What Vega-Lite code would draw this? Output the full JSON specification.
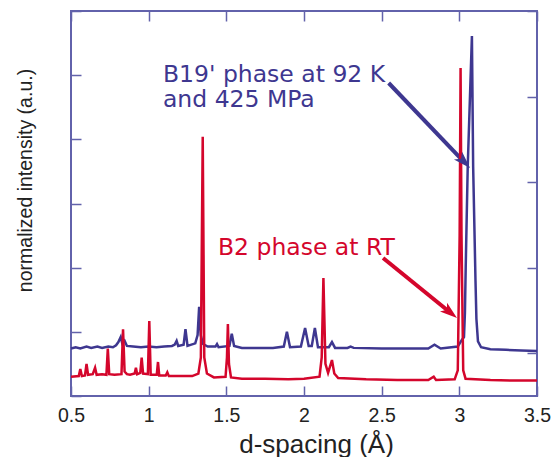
{
  "$schema": "https://vega.github.io/schema/vega-lite/v6.json",
  "width": 466,
  "height": 385,
  "autosize": {"type": "none"},
  "padding": {"left": 71, "top": 11, "right": 21, "bottom": 61},
  "background": "white",
  "config": {
    "view": {"stroke": "#6262ab", "strokeWidth": 2},
    "font": "Liberation Sans",
    "axis": {
      "domain": false,
      "grid": false,
      "tickColor": "#6262ab",
      "tickWidth": 1.5,
      "tickSize": -10,
      "labelFont": "Liberation Sans",
      "labelFontSize": 19.5,
      "labelColor": "#222222",
      "labelFlush": false,
      "titleFont": "Liberation Sans",
      "titleColor": "#222222",
      "titleFontWeight": "normal"
    }
  },
  "datasets": {
    "spectra": [
      {"series": "B19'", "d": 0.50, "I": 0.74},
      {"series": "B19'", "d": 0.53, "I": 0.76},
      {"series": "B19'", "d": 0.56, "I": 0.74},
      {"series": "B19'", "d": 0.60, "I": 0.77},
      {"series": "B19'", "d": 0.63, "I": 0.75},
      {"series": "B19'", "d": 0.67, "I": 0.77},
      {"series": "B19'", "d": 0.70, "I": 0.75},
      {"series": "B19'", "d": 0.74, "I": 0.77},
      {"series": "B19'", "d": 0.77, "I": 0.76},
      {"series": "B19'", "d": 0.79, "I": 0.79},
      {"series": "B19'", "d": 0.805, "I": 0.84},
      {"series": "B19'", "d": 0.82, "I": 0.92},
      {"series": "B19'", "d": 0.83, "I": 0.82},
      {"series": "B19'", "d": 0.845, "I": 0.86},
      {"series": "B19'", "d": 0.86, "I": 0.78},
      {"series": "B19'", "d": 0.90, "I": 0.77},
      {"series": "B19'", "d": 0.95, "I": 0.76},
      {"series": "B19'", "d": 1.00, "I": 0.77},
      {"series": "B19'", "d": 1.05, "I": 0.76},
      {"series": "B19'", "d": 1.10, "I": 0.77},
      {"series": "B19'", "d": 1.15, "I": 0.78},
      {"series": "B19'", "d": 1.168, "I": 0.80},
      {"series": "B19'", "d": 1.18, "I": 0.86},
      {"series": "B19'", "d": 1.19, "I": 0.78},
      {"series": "B19'", "d": 1.225, "I": 0.80},
      {"series": "B19'", "d": 1.237, "I": 1.04},
      {"series": "B19'", "d": 1.25, "I": 0.78},
      {"series": "B19'", "d": 1.30, "I": 0.82},
      {"series": "B19'", "d": 1.315, "I": 0.95},
      {"series": "B19'", "d": 1.325, "I": 1.39},
      {"series": "B19'", "d": 1.335, "I": 0.95},
      {"series": "B19'", "d": 1.35, "I": 0.81},
      {"series": "B19'", "d": 1.38, "I": 0.77},
      {"series": "B19'", "d": 1.43, "I": 0.77},
      {"series": "B19'", "d": 1.44, "I": 0.81},
      {"series": "B19'", "d": 1.45, "I": 0.76},
      {"series": "B19'", "d": 1.52, "I": 0.78},
      {"series": "B19'", "d": 1.535, "I": 0.97},
      {"series": "B19'", "d": 1.55, "I": 0.78},
      {"series": "B19'", "d": 1.60, "I": 0.75},
      {"series": "B19'", "d": 1.80, "I": 0.75},
      {"series": "B19'", "d": 1.87, "I": 0.77},
      {"series": "B19'", "d": 1.89, "I": 1.00},
      {"series": "B19'", "d": 1.91, "I": 0.76},
      {"series": "B19'", "d": 1.98, "I": 0.77},
      {"series": "B19'", "d": 2.007, "I": 1.06},
      {"series": "B19'", "d": 2.03, "I": 0.78},
      {"series": "B19'", "d": 2.05, "I": 0.78},
      {"series": "B19'", "d": 2.07, "I": 1.06},
      {"series": "B19'", "d": 2.09, "I": 0.76},
      {"series": "B19'", "d": 2.16, "I": 0.76},
      {"series": "B19'", "d": 2.18, "I": 0.84},
      {"series": "B19'", "d": 2.20, "I": 0.75},
      {"series": "B19'", "d": 2.28, "I": 0.75},
      {"series": "B19'", "d": 2.30, "I": 0.77},
      {"series": "B19'", "d": 2.32, "I": 0.75},
      {"series": "B19'", "d": 2.50, "I": 0.74},
      {"series": "B19'", "d": 2.80, "I": 0.74},
      {"series": "B19'", "d": 2.84, "I": 0.80},
      {"series": "B19'", "d": 2.88, "I": 0.74},
      {"series": "B19'", "d": 2.99, "I": 0.77},
      {"series": "B19'", "d": 3.015, "I": 0.87},
      {"series": "B19'", "d": 3.03, "I": 0.92},
      {"series": "B19'", "d": 3.036, "I": 1.3},
      {"series": "B19'", "d": 3.041, "I": 2.0},
      {"series": "B19'", "d": 3.054, "I": 3.57},
      {"series": "B19'", "d": 3.081, "I": 5.61},
      {"series": "B19'", "d": 3.089, "I": 3.57},
      {"series": "B19'", "d": 3.104, "I": 1.8},
      {"series": "B19'", "d": 3.11, "I": 1.2},
      {"series": "B19'", "d": 3.12, "I": 0.85},
      {"series": "B19'", "d": 3.14, "I": 0.76},
      {"series": "B19'", "d": 3.20, "I": 0.73},
      {"series": "B19'", "d": 3.30, "I": 0.72},
      {"series": "B19'", "d": 3.40, "I": 0.71},
      {"series": "B19'", "d": 3.50, "I": 0.70},
      {"series": "B2", "d": 0.50, "I": 0.30},
      {"series": "B2", "d": 0.55, "I": 0.31},
      {"series": "B2", "d": 0.56, "I": 0.42},
      {"series": "B2", "d": 0.57, "I": 0.31},
      {"series": "B2", "d": 0.59, "I": 0.32},
      {"series": "B2", "d": 0.60, "I": 0.50},
      {"series": "B2", "d": 0.61, "I": 0.33},
      {"series": "B2", "d": 0.64, "I": 0.34},
      {"series": "B2", "d": 0.655, "I": 0.44},
      {"series": "B2", "d": 0.665, "I": 0.33},
      {"series": "B2", "d": 0.70, "I": 0.34},
      {"series": "B2", "d": 0.728, "I": 0.33},
      {"series": "B2", "d": 0.737, "I": 0.74},
      {"series": "B2", "d": 0.746, "I": 0.34},
      {"series": "B2", "d": 0.78, "I": 0.33},
      {"series": "B2", "d": 0.825, "I": 0.34},
      {"series": "B2", "d": 0.835, "I": 1.04},
      {"series": "B2", "d": 0.845, "I": 0.38},
      {"series": "B2", "d": 0.86, "I": 0.34},
      {"series": "B2", "d": 0.88, "I": 0.33},
      {"series": "B2", "d": 0.91, "I": 0.35},
      {"series": "B2", "d": 0.918, "I": 0.44},
      {"series": "B2", "d": 0.926, "I": 0.34},
      {"series": "B2", "d": 0.946, "I": 0.36},
      {"series": "B2", "d": 0.955, "I": 0.60},
      {"series": "B2", "d": 0.964, "I": 0.35},
      {"series": "B2", "d": 0.995, "I": 0.34},
      {"series": "B2", "d": 1.004, "I": 1.17},
      {"series": "B2", "d": 1.013, "I": 0.33},
      {"series": "B2", "d": 1.052, "I": 0.33},
      {"series": "B2", "d": 1.06, "I": 0.53},
      {"series": "B2", "d": 1.068, "I": 0.32},
      {"series": "B2", "d": 1.11, "I": 0.32},
      {"series": "B2", "d": 1.12, "I": 0.37},
      {"series": "B2", "d": 1.13, "I": 0.31},
      {"series": "B2", "d": 1.20, "I": 0.31},
      {"series": "B2", "d": 1.28, "I": 0.31},
      {"series": "B2", "d": 1.32, "I": 0.35},
      {"series": "B2", "d": 1.336, "I": 0.6},
      {"series": "B2", "d": 1.348, "I": 4.04},
      {"series": "B2", "d": 1.358, "I": 0.6},
      {"series": "B2", "d": 1.375, "I": 0.35},
      {"series": "B2", "d": 1.42, "I": 0.29},
      {"series": "B2", "d": 1.495, "I": 0.30},
      {"series": "B2", "d": 1.504, "I": 0.6},
      {"series": "B2", "d": 1.51, "I": 1.12},
      {"series": "B2", "d": 1.517, "I": 0.5},
      {"series": "B2", "d": 1.53, "I": 0.29},
      {"series": "B2", "d": 1.60, "I": 0.27},
      {"series": "B2", "d": 1.75, "I": 0.27},
      {"series": "B2", "d": 1.90, "I": 0.26},
      {"series": "B2", "d": 2.00, "I": 0.27},
      {"series": "B2", "d": 2.10, "I": 0.30},
      {"series": "B2", "d": 2.114, "I": 0.6},
      {"series": "B2", "d": 2.125, "I": 1.84},
      {"series": "B2", "d": 2.138, "I": 0.5},
      {"series": "B2", "d": 2.155, "I": 0.36},
      {"series": "B2", "d": 2.18, "I": 0.56},
      {"series": "B2", "d": 2.195, "I": 0.35},
      {"series": "B2", "d": 2.22, "I": 0.28},
      {"series": "B2", "d": 2.40, "I": 0.26},
      {"series": "B2", "d": 2.60, "I": 0.25},
      {"series": "B2", "d": 2.80, "I": 0.25},
      {"series": "B2", "d": 2.835, "I": 0.30},
      {"series": "B2", "d": 2.85, "I": 0.25},
      {"series": "B2", "d": 2.97, "I": 0.26},
      {"series": "B2", "d": 2.99, "I": 0.4},
      {"series": "B2", "d": 3.002, "I": 2.5},
      {"series": "B2", "d": 3.008, "I": 5.11},
      {"series": "B2", "d": 3.014, "I": 2.5},
      {"series": "B2", "d": 3.025, "I": 0.4},
      {"series": "B2", "d": 3.04, "I": 0.27},
      {"series": "B2", "d": 3.20, "I": 0.25},
      {"series": "B2", "d": 3.35, "I": 0.24},
      {"series": "B2", "d": 3.50, "I": 0.24}
    ],
    "notes": [
      {"series": "B19'", "d": 1.092, "I": 4.893, "label": "B19' phase at 92 K"},
      {"series": "B19'", "d": 1.092, "I": 4.504, "label": "and 425 MPa"},
      {"series": "B2", "d": 1.446, "I": 2.197, "label": "B2 phase at RT"}
    ],
    "arrows": [
      {"series": "B19'", "d": 2.545, "I": 4.878, "d2": 3.033, "I2": 3.642, "tipD": 3.069, "tipI": 3.553},
      {"series": "B2", "d": 2.509, "I": 2.15, "d2": 2.945, "I2": 1.293, "tipD": 2.985, "tipI": 1.216}
    ]
  },
  "layer": [
    {
      "data": {"name": "spectra"},
      "transform": [{"filter": "datum.series === \"B19'\""}],
      "mark": {"type": "line", "strokeWidth": 2.5, "interpolate": "linear"},
      "encoding": {
        "x": {"field": "d", "type": "quantitative", "scale": {"domain": [0.5, 3.5], "nice": false, "zero": false},
          "axis": {"orient": "bottom", "values": [0.5, 1, 1.5, 2, 2.5, 3, 3.5], "format": "~g", "labelPadding": 20, "title": "d-spacing (Å)", "titleFontSize": 26, "titleBaseline": "alphabetic", "titleAnchor": "middle", "titleX": 245, "titleY": 56}},
        "y": {"field": "I", "type": "quantitative", "scale": {"domain": [0, 6], "nice": false, "zero": false},
          "axis": {"orient": "left", "values": [0, 1, 2, 3, 4, 5, 6], "labels": false, "title": "normalized intensity (a.u.)", "titleFontSize": 19.5, "titleAnchor": "middle", "titleX": -36, "titleY": 169, "titleBaseline": "bottom", "titleAngle": -90}},
        "color": {"field": "series", "type": "nominal", "scale": {"domain": ["B19'", "B2"], "range": ["#3e3790", "#d4062c"]}, "legend": null}
      }
    },
    {
      "data": {"name": "arrows"},
      "mark": {"type": "rule", "strokeWidth": 4},
      "encoding": {
        "x": {"field": "d", "type": "quantitative", "scale": {"domain": [0.5, 3.5], "nice": false, "zero": false},
          "axis": {"orient": "top", "values": [0.5, 1, 1.5, 2, 2.5, 3, 3.5], "labels": false, "title": null}},
        "y": {"field": "I", "type": "quantitative", "scale": {"domain": [0, 6], "nice": false, "zero": false},
          "axis": {"orient": "right", "values": [0.667, 2, 3.333, 4.667, 6], "labels": false, "title": null}},
        "x2": {"field": "d2"},
        "y2": {"field": "I2"},
        "color": {"field": "series", "type": "nominal", "legend": null}
      }
    },
    {
      "data": {"name": "spectra"},
      "transform": [{"filter": "datum.series === 'B2'"}],
      "mark": {"type": "line", "strokeWidth": 2.5, "interpolate": "linear"},
      "encoding": {
        "x": {"field": "d", "type": "quantitative", "axis": null},
        "y": {"field": "I", "type": "quantitative", "axis": null},
        "color": {"field": "series", "type": "nominal", "legend": null}
      }
    },
    {
      "data": {"name": "arrows"},
      "transform": [{"filter": "datum.series === \"B19'\""}],
      "mark": {"type": "point", "shape": "M0,0L-0.65,2L0,1.5L0.65,2Z", "filled": true, "opacity": 1, "size": 300, "angle": 136},
      "encoding": {
        "x": {"field": "tipD", "type": "quantitative", "axis": null},
        "y": {"field": "tipI", "type": "quantitative", "axis": null},
        "color": {"field": "series", "type": "nominal", "legend": null}
      }
    },
    {
      "data": {"name": "arrows"},
      "transform": [{"filter": "datum.series === 'B2'"}],
      "mark": {"type": "point", "shape": "M0,0L-0.65,2L0,1.5L0.65,2Z", "filled": true, "opacity": 1, "size": 300, "angle": 129},
      "encoding": {
        "x": {"field": "tipD", "type": "quantitative", "axis": null},
        "y": {"field": "tipI", "type": "quantitative", "axis": null},
        "color": {"field": "series", "type": "nominal", "legend": null}
      }
    },
    {
      "data": {"name": "notes"},
      "mark": {"type": "text", "align": "left", "baseline": "alphabetic", "fontSize": 23.5, "font": "DejaVu Sans"},
      "encoding": {
        "x": {"field": "d", "type": "quantitative", "axis": null},
        "y": {"field": "I", "type": "quantitative", "axis": null},
        "text": {"field": "label"},
        "color": {"field": "series", "type": "nominal", "legend": null}
      }
    }
  ],
  "resolve": {"axis": {"x": "independent", "y": "independent"}}
}
